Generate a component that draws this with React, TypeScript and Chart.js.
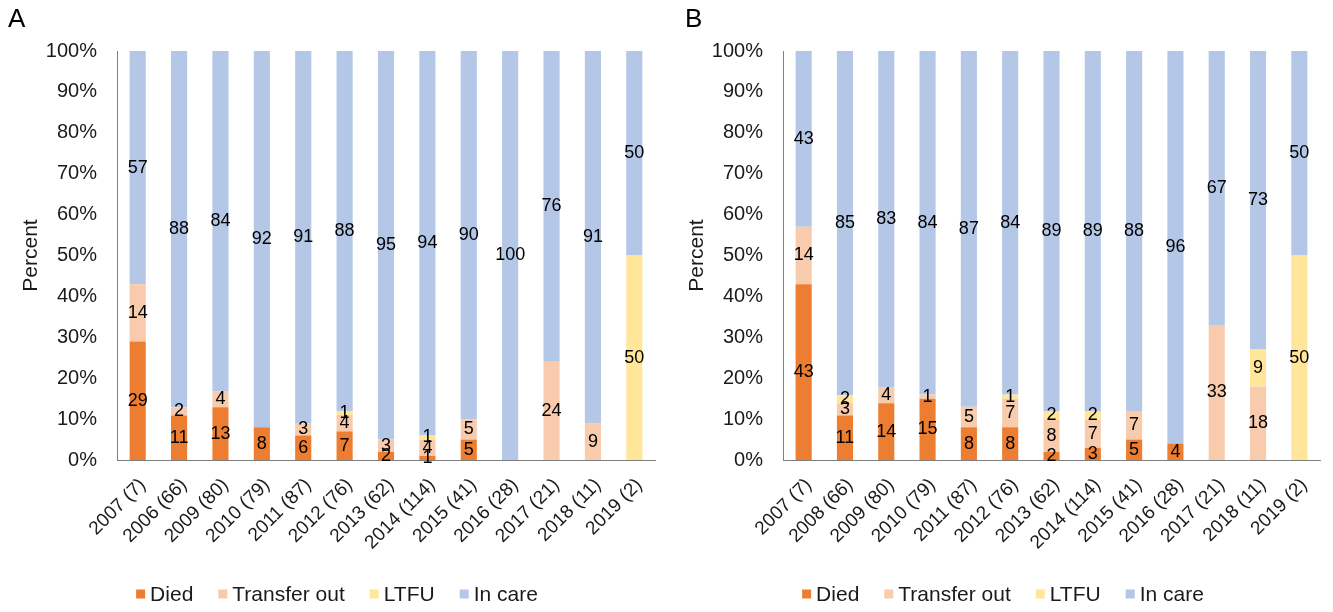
import React, { useEffect, useRef } from 'react';
import { Chart, registerables } from 'chart.js';

Chart.register(...registerables);

// ---- Data ----
const seriesNames = ['Died', 'Transfer out', 'LTFU', 'In care'];

const categoriesA = ['2007 (7)', '2006 (66)', '2009 (80)', '2010 (79)', '2011 (87)', '2012 (76)', '2013 (62)', '2014 (114)', '2015 (41)', '2016 (28)', '2017 (21)', '2018 (11)', '2019 (2)'];
const diedA = [29, 11, 13, 8, 6, 7, 2, 1, 5, 0, 0, 0, 0];
const transferA = [14, 2, 4, 0, 3, 4, 3, 4, 5, 0, 24, 9, 0];
const ltfuA = [0, 0, 0, 0, 0, 1, 0, 1, 0, 0, 0, 0, 50];
const inCareA = [57, 88, 84, 92, 91, 88, 95, 94, 90, 100, 76, 91, 50];

const categoriesB = ['2007 (7)', '2008 (66)', '2009 (80)', '2010 (79)', '2011 (87)', '2012 (76)', '2013 (62)', '2014 (114)', '2015 (41)', '2016 (28)', '2017 (21)', '2018 (11)', '2019 (2)'];
const diedB = [43, 11, 14, 15, 8, 8, 2, 3, 5, 4, 0, 0, 0];
const transferB = [14, 3, 4, 1, 5, 7, 8, 7, 7, 0, 33, 18, 0];
const ltfuB = [0, 2, 0, 0, 0, 1, 2, 2, 0, 0, 0, 9, 50];
const inCareB = [43, 85, 83, 84, 87, 84, 89, 89, 88, 96, 67, 73, 50];

const yTickValues = [0, 10, 20, 30, 40, 50, 60, 70, 80, 90, 100];

// ---- Styles ----
const colors = ['#ED7D31', '#F8CBAD', '#FFE699', '#B4C7E7'];
const FONT = '"Liberation Sans", Arial, sans-serif';
const TEXT = '#1a1a1a';

const valueLabels = {
  id: 'valueLabels',
  afterDatasetsDraw(chart: any) {
    const ctx = chart.ctx;
    ctx.save();
    ctx.font = `18px ${FONT}`;
    ctx.fillStyle = '#000';
    ctx.textAlign = 'center';
    ctx.textBaseline = 'middle';
    chart.data.datasets.forEach((ds: any, di: number) => {
      const meta = chart.getDatasetMeta(di);
      meta.data.forEach((bar: any, i: number) => {
        const v = ds.rawValues[i];
        if (!v) return;
        const p = bar.getProps(['x', 'y', 'base'], true);
        ctx.fillText(String(v), p.x, (p.y + p.base) / 2);
      });
    });
    ctx.restore();
  },
};

// custom bottom legend (Excel-like spacing)
const bottomLegend = {
  id: 'bottomLegend',
  afterDraw(chart: any) {
    const ctx = chart.ctx;
    ctx.save();
    ctx.font = `21px ${FONT}`;
    ctx.textBaseline = 'middle';
    ctx.textAlign = 'left';
    const box = 9;
    const gapText = 5;
    const gapItem = 25;
    const items = chart.data.datasets.map((d: any) => ({
      text: d.label,
      color: d.backgroundColor,
      w: ctx.measureText(d.label).width,
    }));
    const total = items.reduce((s: number, it: any) => s + box + gapText + it.w, 0) + gapItem * (items.length - 1);
    let x = 337 - total / 2;
    const y = 594;
    items.forEach((it: any) => {
      ctx.fillStyle = it.color;
      ctx.fillRect(x, y - box / 2, box, box);
      x += box + gapText;
      ctx.fillStyle = TEXT;
      ctx.fillText(it.text, x, y + 1);
      x += it.w + gapItem;
    });
    ctx.restore();
  },
};

function Panel(props: { cats: string[]; series: number[][]; right: number }) {
  const ref = useRef<HTMLCanvasElement>(null);
  useEffect(() => {
    const { cats, series } = props;
    const totals = cats.map((_, i) => series.reduce((s, a) => s + a[i], 0));
    const chart = new Chart(ref.current as HTMLCanvasElement, {
      type: 'bar',
      data: {
        labels: cats,
        datasets: seriesNames.map((name, k) => ({
          label: name,
          data: series[k].map((v, i) => (v / totals[i]) * 100),
          rawValues: series[k],
          backgroundColor: colors[k],
          borderWidth: 0,
          barPercentage: 0.39,
          categoryPercentage: 1,
        })) as any,
      },
      options: {
        responsive: false,
        animation: false,
        layout: { padding: { left: 0, right: props.right, top: 51, bottom: 37 } },
        scales: {
          x: {
            stacked: true,
            grid: { display: false, drawTicks: false },
            border: { display: true, color: '#808080', width: 1 },
            ticks: {
              autoSkip: false,
              minRotation: 45,
              maxRotation: 45,
              padding: 14,
              labelOffset: 5,
              color: TEXT,
              font: { family: FONT, size: 19 },
            },
            afterFit: (s: any) => {
              s.height = 115;
            },
          },
          y: {
            stacked: true,
            min: 0,
            max: 100,
            grid: { display: false, drawTicks: false },
            border: { display: true, color: '#808080', width: 1 },
            afterBuildTicks: (s: any) => {
              s.ticks = yTickValues.map((v) => ({ value: v }));
            },
            ticks: {
              padding: 20,
              color: TEXT,
              font: { family: FONT, size: 20 },
              callback: (v: any) => v + '%',
            },
            title: {
              display: true,
              text: 'Percent',
              color: TEXT,
              font: { family: FONT, size: 21 },
              padding: { top: 19, bottom: 0 },
            },
            afterFit: (s: any) => {
              s.width = 117;
            },
          },
        },
        plugins: {
          legend: { display: false },
          tooltip: { enabled: false },
        },
      },
      plugins: [valueLabels, bottomLegend],
    } as any);
    return () => chart.destroy();
  }, []);
  return <canvas ref={ref} width={666} height={612} style={{ display: 'block' }} />;
}

export default function App() {
  const letter: React.CSSProperties = {
    position: 'absolute',
    top: 3,
    fontFamily: FONT,
    fontSize: 26,
    color: '#000',
  };
  return (
    <div style={{ position: 'absolute', left: 0, top: 0, width: 1333, height: 612, background: '#fff' }}>
      <div style={{ position: 'absolute', left: 0, top: 0 }}>
        <Panel cats={categoriesA} series={[diedA, transferA, ltfuA, inCareA]} right={11} />
      </div>
      <div style={{ position: 'absolute', left: 666, top: 0 }}>
        <Panel cats={categoriesB} series={[diedB, transferB, ltfuB, inCareB]} right={12} />
      </div>
      <div style={{ ...letter, left: 8 }}>A</div>
      <div style={{ ...letter, left: 685 }}>B</div>
    </div>
  );
}
